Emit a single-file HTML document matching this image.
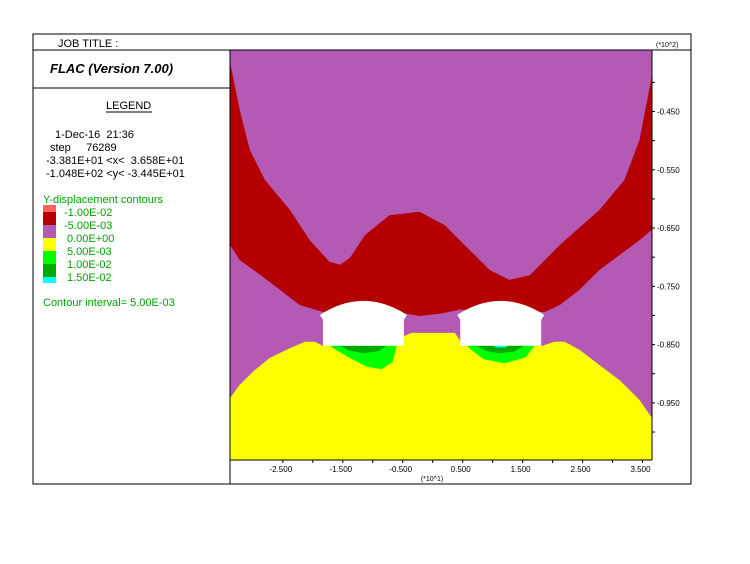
<!DOCTYPE html>
<html><head><meta charset="utf-8"><style>
body{margin:0;background:#fff;width:750px;height:564px;overflow:hidden}
svg{display:block;font-family:"Liberation Sans",Arial,sans-serif}
</style></head><body>
<svg width="750" height="564">
<g id="plot"></g>
<rect x="33" y="34" width="658" height="450" fill="none" stroke="#000" stroke-width="1"/>
<line x1="33" y1="50" x2="691" y2="50" stroke="#000"/>
<line x1="230" y1="50" x2="230" y2="484" stroke="#000"/>
<line x1="33" y1="88" x2="230" y2="88" stroke="#000"/>
<line x1="652" y1="50" x2="652" y2="460" stroke="#000"/>
<line x1="230" y1="460" x2="652" y2="460" stroke="#000"/>
<text x="58" y="47" font-size="11">JOB TITLE :</text>
<text x="50" y="73" font-size="13" font-weight="bold" font-style="italic">FLAC (Version 7.00)</text>
<text x="106" y="109" font-size="11">LEGEND</text>
<line x1="106" y1="112" x2="152" y2="112" stroke="#000"/>
<g font-size="11">
<text x="55" y="138" xml:space="preserve">1-Dec-16  21:36</text>
<text x="50" y="151" xml:space="preserve">step     76289</text>
<text x="46" y="164" xml:space="preserve">-3.381E+01 &lt;x&lt;  3.658E+01</text>
<text x="46" y="177" xml:space="preserve">-1.048E+02 &lt;y&lt; -3.445E+01</text>
</g>
<g font-size="11" fill="#00a000">
<text x="43" y="203">Y-displacement contours</text>
<rect x="43" y="205" width="13" height="7" fill="#ff6060"/>
<rect x="43" y="212" width="13" height="13" fill="#b40000"/>
<rect x="43" y="225" width="13" height="13" fill="#b45ab4"/>
<rect x="43" y="238" width="13" height="13" fill="#ffff00"/>
<rect x="43" y="251" width="13" height="13" fill="#00ff00"/>
<rect x="43" y="264" width="13" height="13" fill="#00aa00"/>
<rect x="43" y="277" width="13" height="6" fill="#00ffff"/>
<text x="64" y="216">-1.00E-02</text>
<text x="64" y="229">-5.00E-03</text>
<text x="67" y="242">0.00E+00</text>
<text x="67" y="255">5.00E-03</text>
<text x="67" y="268">1.00E-02</text>
<text x="67" y="281">1.50E-02</text>
<text x="43" y="306">Contour interval=  5.00E-03</text>
</g>
<g id="axes" font-size="8"></g>
</svg>
<script>
const xDomain=[-3.381,3.658], yDomain=[-1.048,-0.3445];
const xTicks=[-2.5,-2.0,-1.5,-1.0,-0.5,0,0.5,1.0,1.5,2.0,2.5,3.0,3.5];
const xTickLabels=["-2.500","-1.500","-0.500","0.500","1.500","2.500","3.500"];
const xLabelVals=[-2.5,-1.5,-0.5,0.5,1.5,2.5,3.5];
const yTicks=[-0.40,-0.45,-0.50,-0.55,-0.60,-0.65,-0.70,-0.75,-0.80,-0.85,-0.90,-0.95,-1.00];
const yLabelVals=[-0.45,-0.55,-0.65,-0.75,-0.85,-0.95];
const yTickLabels=["-0.450","-0.550","-0.650","-0.750","-0.850","-0.950"];
const X=v=>230+(v-xDomain[0])/(xDomain[1]-xDomain[0])*422;
const Y=v=>460-(v-yDomain[0])/(yDomain[1]-yDomain[0])*410;
const redRegion=[[-3.381,-0.365],[-3.22,-0.447],[-3.05,-0.516],[-2.8,-0.567],[-2.38,-0.619],[-2.05,-0.671],[-1.72,-0.708],[-1.55,-0.713],[-1.38,-0.701],[-1.13,-0.662],[-0.72,-0.628],[-0.22,-0.622],[0.2,-0.645],[0.62,-0.688],[0.95,-0.722],[1.28,-0.739],[1.62,-0.731],[2.12,-0.679],[2.78,-0.619],[3.2,-0.567],[3.45,-0.499],[3.58,-0.43],[3.658,-0.387],
[3.658,-0.653],[3.45,-0.671],[3.12,-0.696],[2.78,-0.722],[2.45,-0.756],[2.12,-0.782],[1.87,-0.794],[0.45,-0.79],[0.12,-0.797],[-0.22,-0.801],[-0.5,-0.796],[-1.83,-0.794],[-2.22,-0.782],[-2.55,-0.756],[-2.88,-0.73],[-3.22,-0.705],[-3.381,-0.679]];
const yellowRegion=[[-3.381,-0.942],[-3.22,-0.919],[-2.97,-0.894],[-2.72,-0.873],[-2.38,-0.856],[-2.13,-0.845],[-1.97,-0.845],[-1.83,-0.852],[-0.58,-0.852],[-0.47,-0.835],[-0.35,-0.830],[0.37,-0.830],[0.45,-0.842],[0.48,-0.852],[1.83,-0.852],[2.03,-0.845],[2.2,-0.845],[2.45,-0.859],[2.78,-0.885],[3.12,-0.911],[3.45,-0.945],[3.658,-0.976],[3.658,-1.048],[-3.381,-1.048]];
const lightGreenL=[[-1.72,-0.852],[-0.6,-0.852],[-0.67,-0.88],[-0.85,-0.892],[-1.1,-0.888],[-1.4,-0.872],[-1.6,-0.86]];
const darkGreenL=[[-1.55,-0.852],[-0.77,-0.852],[-0.9,-0.861],[-1.15,-0.865],[-1.4,-0.86]];
const lightGreenR=[[0.57,-0.852],[1.7,-0.852],[1.55,-0.872],[1.2,-0.882],[0.85,-0.875],[0.68,-0.862]];
const darkGreenR=[[0.73,-0.852],[1.53,-0.852],[1.35,-0.862],[1.1,-0.865],[0.9,-0.861]];
const cyanR=[[1.02,-0.852],[1.25,-0.852],[1.22,-0.855],[1.05,-0.855]];
const tunnelLeft=[-1.83,0.46], tunnelWidth=1.35, tunnelTop=-0.775, tunnelShoulder=-0.799, tunnelFloor=-0.852;
const NS="http://www.w3.org/2000/svg";
const plot=document.getElementById('plot'), axes=document.getElementById('axes');
function mk(tag,attrs,parent){const e=document.createElementNS(NS,tag);for(const k in attrs)e.setAttribute(k,attrs[k]);parent.appendChild(e);return e;}
function poly(pts,fill,name){const e=mk('polygon',{points:pts.map(p=>X(p[0]).toFixed(1)+','+Y(p[1]).toFixed(1)).join(' '),fill:fill},plot);

}
const bg=mk('rect',{x:X(xDomain[0]),y:Y(yDomain[1]),width:X(xDomain[1])-X(xDomain[0]),height:Y(yDomain[0])-Y(yDomain[1]),fill:'#b45ab4'},plot);


poly(redRegion,'#b40000','contour-dark-red');
poly(yellowRegion,'#ffff00','contour-yellow');
poly(lightGreenL,'#00ff00','contour-green-left');
poly(darkGreenL,'#00aa00','contour-darkgreen-left');
poly(lightGreenR,'#00ff00','contour-green-right');
poly(darkGreenR,'#00aa00','contour-darkgreen-right');
poly(cyanR,'#00ffff','contour-cyan-right');
tunnelLeft.forEach((l,i)=>{
 const r=l+tunnelWidth, m=l+tunnelWidth/2;
 const dy=Y(tunnelShoulder)-Y(tunnelTop);
 const d=`M${X(l)-3},${Y(tunnelShoulder)} Q${X(m)},${Y(tunnelTop)-dy} ${X(r)+3},${Y(tunnelShoulder)} L${X(r)},${Y(tunnelShoulder)+5} L${X(r)},${Y(tunnelFloor)} L${X(l)},${Y(tunnelFloor)} L${X(l)},${Y(tunnelShoulder)+5} Z`;
 const p=mk('path',{d:d,fill:'#fff'},plot);
 
 
});
xTicks.forEach(v=>{const t=mk('line',{x1:X(v),x2:X(v),y1:460,y2:463,stroke:'#000'},axes);

});
xLabelVals.forEach((v,i)=>{const t=mk('text',{x:X(v)-2,y:472,'text-anchor':'middle'},axes);t.textContent=xTickLabels[i];

});
yTicks.forEach(v=>{const t=mk('line',{x1:652,x2:655,y1:Y(v),y2:Y(v),stroke:'#000'},axes);

});
yLabelVals.forEach((v,i)=>{const t=mk('text',{x:657,y:Y(v)+3},axes);t.textContent=yTickLabels[i];

});
const xu=mk('text',{x:432,y:481,'text-anchor':'middle','font-size':'7'},axes);xu.textContent="(*10^1)";


const yu=mk('text',{x:656,y:47,'font-size':'7'},axes);yu.textContent="(*10^2)";


</script>
</body></html>
